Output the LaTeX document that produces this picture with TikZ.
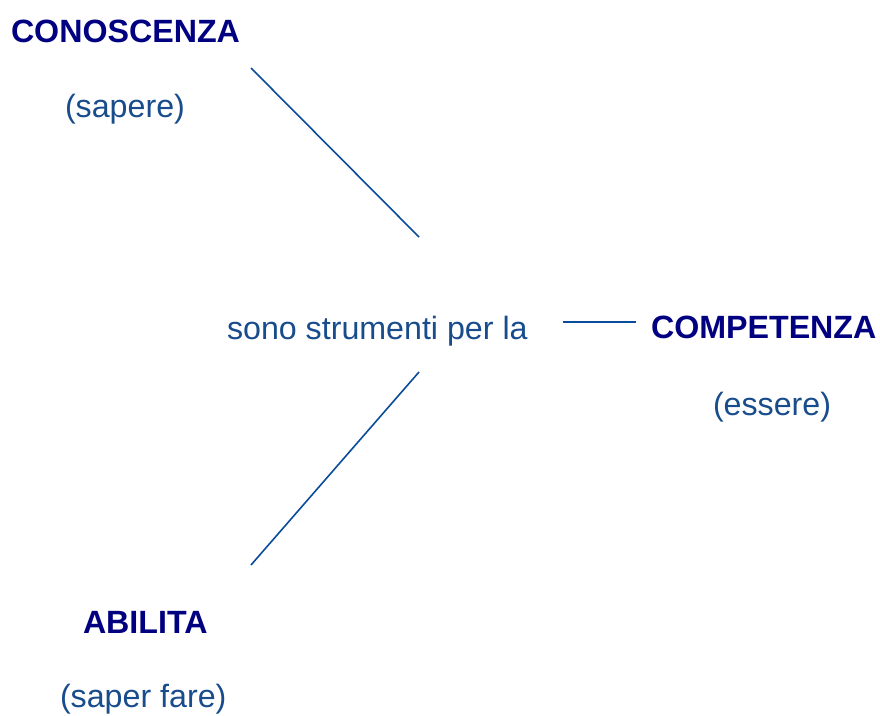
\documentclass[tikz,border=0pt]{standalone}
\usepackage{fontspec}
\setmainfont{Liberation Sans}
\definecolor{navy}{HTML}{000080}
\definecolor{txtblue}{HTML}{184C8C}
\definecolor{lineblue}{HTML}{0B4C9A}
\begin{document}
\begin{tikzpicture}[x=1pt,y=-1pt,
  lbl/.style={anchor=base west,inner sep=0pt,outer sep=0pt,font=\fontsize{32.2}{38}\selectfont},
  head/.style={lbl,text=navy,font=\fontsize{32.2}{38}\selectfont\bfseries},
  sub/.style={lbl,text=txtblue},
  link/.style={draw=lineblue,line width=1.6pt}]
\useasboundingbox (0,0) rectangle (880,715);
\node[head] (con) at (11,42) {CONOSCENZA};
\node[sub] (sap) at (65,117) {(sapere)};
\node[sub] (mid) at (227,339) {sono strumenti per la};
\node[head] (comp) at (651,338) {COMPETENZA};
\node[sub] (ess) at (713,415) {(essere)};
\node[head] (abi) at (83,633) {ABILITA};
\node[sub] (sf) at (60,707) {(saper fare)};
\coordinate (c1) at (251,68);
\coordinate (m1) at (419,237);
\coordinate (m2) at (419,372);
\coordinate (a1) at (251,565);
\coordinate (m3) at (563,322);
\coordinate (p1) at (636,322);
\draw[link] (c1) -- (m1);
\draw[link] (m2) -- (a1);
\draw[link] (m3) -- (p1);
\end{tikzpicture}
\end{document}
